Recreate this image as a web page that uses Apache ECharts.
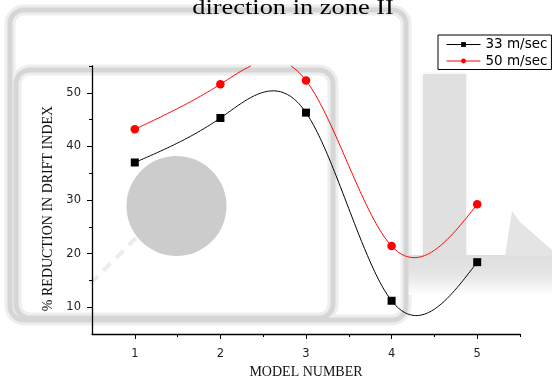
<!DOCTYPE html>
<html>
<head>
<meta charset="utf-8">
<script src="https://cdn.jsdelivr.net/npm/echarts@6/dist/echarts.min.js"></script>
<style>
  html, body { margin: 0; padding: 0; background: #fff; }
  #chart { width: 552px; height: 376px; }
</style>
</head>
<body>
<div id="chart"></div>
<script>
// Measured reduction in drift index per model
const modelNumbers = [1, 2, 3, 4, 5];
const reduction33 = [37.0, 45.3, 46.3, 11.2, 18.4];
const reduction50 = [43.2, 51.6, 52.3, 21.4, 29.2];
const seriesNames = ['33 m/sec', '50 m/sec'];

// Tick positions
const xMajorTicks = [1, 2, 3, 4, 5];
const xMinorTicks = [1.5, 2.5, 3.5, 4.5, 5.5];
const yMajorTicks = [10, 20, 30, 40, 50];
const yMinorTicks = [15, 25, 35, 45, 55];

// Texts
const titleText = 'direction in zone II';
const xAxisTitle = 'MODEL NUMBER';
const yAxisTitle = '% REDUCTION IN DRIFT INDEX';

const X_MIN = 0.5, X_MAX = 5.5, Y_MIN = 5, Y_MAX = 55;
const SANS = '"DejaVu Sans", sans-serif';
const SERIF = '"Liberation Serif", "Times New Roman", serif';

// Natural cubic spline through the given points
function naturalSpline(xs, ys) {
  const n = xs.length;
  const h = [];
  for (let i = 0; i < n - 1; i++) h[i] = xs[i + 1] - xs[i];
  const l = new Array(n).fill(1), mu = new Array(n).fill(0), z = new Array(n).fill(0);
  for (let i = 1; i < n - 1; i++) {
    const a = 3 / h[i] * (ys[i + 1] - ys[i]) - 3 / h[i - 1] * (ys[i] - ys[i - 1]);
    l[i] = 2 * (xs[i + 1] - xs[i - 1]) - h[i - 1] * mu[i - 1];
    mu[i] = h[i] / l[i];
    z[i] = (a - h[i - 1] * z[i - 1]) / l[i];
  }
  const c = new Array(n).fill(0), b = [], d = [];
  for (let j = n - 2; j >= 0; j--) {
    c[j] = z[j] - mu[j] * c[j + 1];
    b[j] = (ys[j + 1] - ys[j]) / h[j] - h[j] * (c[j + 1] + 2 * c[j]) / 3;
    d[j] = (c[j + 1] - c[j]) / (3 * h[j]);
  }
  return function (x) {
    let j = 0;
    while (j < n - 2 && x > xs[j + 1]) j++;
    const t = x - xs[j];
    return ys[j] + b[j] * t + c[j] * t * t + d[j] * t * t * t;
  };
}

// Draws the spline curve, cut where it leaves the plotting range
function curveRenderer(xs, ys, color) {
  const f = naturalSpline(xs, ys);
  return function (params, api) {
    if (params.dataIndex !== 0) return null;
    const steps = 240;
    const pieces = [];
    let cur = [], prev = null;
    for (let k = 0; k <= steps; k++) {
      const x = xs[0] + (xs[xs.length - 1] - xs[0]) * k / steps;
      const y = f(x);
      const inside = y <= Y_MAX && y >= Y_MIN;
      if (inside) {
        if (!cur.length && prev && !prev.inside) {
          const yb = prev.y > Y_MAX ? Y_MAX : Y_MIN;
          const tt = (yb - prev.y) / (y - prev.y);
          cur.push(api.coord([prev.x + (x - prev.x) * tt, yb]));
        }
        cur.push(api.coord([x, y]));
      } else if (cur.length) {
        const yb = y > Y_MAX ? Y_MAX : Y_MIN;
        const tt = (yb - prev.y) / (y - prev.y);
        cur.push(api.coord([prev.x + (x - prev.x) * tt, yb]));
        pieces.push(cur);
        cur = [];
      }
      prev = { x: x, y: y, inside: inside };
    }
    if (cur.length) pieces.push(cur);
    return {
      type: 'group',
      children: pieces.map(p => ({
        type: 'polyline',
        shape: { points: p },
        style: { stroke: color, lineWidth: 1, fill: null }
      }))
    };
  };
}

const pts33 = modelNumbers.map((x, i) => [x, reduction33[i]]);
const pts50 = modelNumbers.map((x, i) => [x, reduction50[i]]);

// Soft grey backdrop shapes
const outerFrame = { x: 10, y: 10, width: 396, height: 310, r: 14 };
const innerFrame = { x: 16, y: 70, width: 317, height: 248, r: 14 };
const backdrop = [
  { type: 'rect', z: -10, shape: outerFrame, style: { fill: null, stroke: '#eeeeee', lineWidth: 11 } },
  { type: 'rect', z: -10, shape: innerFrame, style: { fill: null, stroke: '#eeeeee', lineWidth: 11 } },
  { type: 'rect', z: -9, shape: outerFrame, style: { fill: null, stroke: '#d6d6d6', lineWidth: 5 } },
  { type: 'rect', z: -9, shape: innerFrame, style: { fill: null, stroke: '#d6d6d6', lineWidth: 5 } },
  { type: 'rect', z: -10, shape: { x: 423, y: 74, width: 43, height: 183 },
    style: { fill: '#e0e0e0', shadowBlur: 4, shadowColor: 'rgba(0,0,0,0.08)' } },
  { type: 'rect', z: -10, shape: { x: 405, y: 255, width: 147, height: 40 },
    style: { fill: { type: 'linear', x: 0, y: 0, x2: 0, y2: 1, colorStops: [
      { offset: 0, color: '#dedede' }, { offset: 0.5, color: '#e6e6e6' }, { offset: 1, color: '#ffffff' } ] } } },
  { type: 'polygon', z: -10, shape: { points: [[505, 256], [512, 211], [520, 222], [552, 250], [552, 256]] }, style: { fill: '#e4e4e4' } },
  { type: 'line', z: -10, shape: { x1: 136, y1: 238, x2: 90, y2: 284 }, style: { stroke: '#ececec', lineWidth: 4, lineDash: [10, 8] } },
  { type: 'circle', z: -9, shape: { cx: 176.5, cy: 206, r: 50 }, style: { fill: '#cccccc' } },
  { type: 'text', z: 5, x: 293, y: 8.5, scaleX: 1.32, scaleY: 1,
    style: { text: titleText, font: '20px ' + SERIF, fill: '#000', align: 'center', verticalAlign: 'middle' } }
];

const chart = echarts.init(document.getElementById('chart'), null, { renderer: 'canvas' });

chart.setOption({
  animation: false,
  backgroundColor: '#fff',
  graphic: { elements: backdrop },
  grid: { left: 92, right: 32, top: 66, bottom: 42, outerBoundsMode: 'none', containLabel: false },
  legend: {
    orient: 'vertical',
    left: 438, top: 35,
    padding: [2, 4, 1, 8],
    itemGap: 1.5,
    itemWidth: 34, itemHeight: 6,
    backgroundColor: '#fff',
    borderColor: '#000', borderWidth: 1,
    textStyle: { fontFamily: SANS, fontSize: 13.5, color: '#000', lineHeight: 15 },
    data: [
      { name: seriesNames[0], lineStyle: { color: '#000', width: 1, opacity: 1 } },
      { name: seriesNames[1], lineStyle: { color: '#ff0000', width: 1, opacity: 1 } }
    ]
  },
  xAxis: [{
    type: 'value', min: X_MIN, max: X_MAX, interval: 0.5,
    axisLine: { show: true, lineStyle: { color: '#000', width: 1.3 } },
    axisTick: { show: true, customValues: xMajorTicks, length: 5, lineStyle: { color: '#000' } },
    axisLabel: { customValues: xMajorTicks, margin: 14, fontFamily: SANS, fontSize: 11.5, color: '#222' },
    splitLine: { show: false },
    name: xAxisTitle, nameLocation: 'middle', nameGap: 28,
    nameTextStyle: { fontFamily: SERIF, fontSize: 14, color: '#111' }
  }, {
    type: 'value', min: X_MIN, max: X_MAX, interval: 0.5, position: 'bottom',
    axisLine: { show: false },
    axisTick: { show: true, customValues: xMinorTicks, length: 3, lineStyle: { color: '#000' } },
    axisLabel: { show: false }, splitLine: { show: false }
  }],
  yAxis: [{
    type: 'value', min: Y_MIN, max: Y_MAX, interval: 5,
    axisLine: { show: true, lineStyle: { color: '#000', width: 1.3 } },
    axisTick: { show: true, customValues: yMajorTicks, length: 5, lineStyle: { color: '#000' } },
    axisLabel: { customValues: yMajorTicks, margin: 11, fontFamily: SANS, fontSize: 11.5, color: '#222' },
    splitLine: { show: false },
    name: yAxisTitle, nameLocation: 'middle', nameGap: 30, nameRotate: 90,
    nameTextStyle: { fontFamily: SERIF, fontSize: 14, color: '#111', padding: [0, 17, 0, 0] }
  }, {
    type: 'value', min: Y_MIN, max: Y_MAX, interval: 5, position: 'left',
    axisLine: { show: false },
    axisTick: { show: true, customValues: yMinorTicks, length: 3, lineStyle: { color: '#000' } },
    axisLabel: { show: false }, splitLine: { show: false }
  }],
  series: [
    {
      name: seriesNames[0], type: 'line', z: 4, data: pts33,
      symbol: 'rect', symbolSize: 8, showSymbol: true,
      itemStyle: { color: '#000' }, lineStyle: { width: 0, opacity: 0 }
    },
    {
      name: seriesNames[1], type: 'line', z: 4, data: pts50,
      symbol: 'circle', symbolSize: 8.5, showSymbol: true,
      itemStyle: { color: '#ff0000' }, lineStyle: { width: 0, opacity: 0 }
    },
    {
      name: 'curve-33', type: 'custom', z: 3, data: pts33,
      renderItem: curveRenderer(modelNumbers, reduction33, '#000')
    },
    {
      name: 'curve-50', type: 'custom', z: 3, data: pts50,
      renderItem: curveRenderer(modelNumbers, reduction50, '#ff0000')
    }
  ]
});
</script>
</body>
</html>
